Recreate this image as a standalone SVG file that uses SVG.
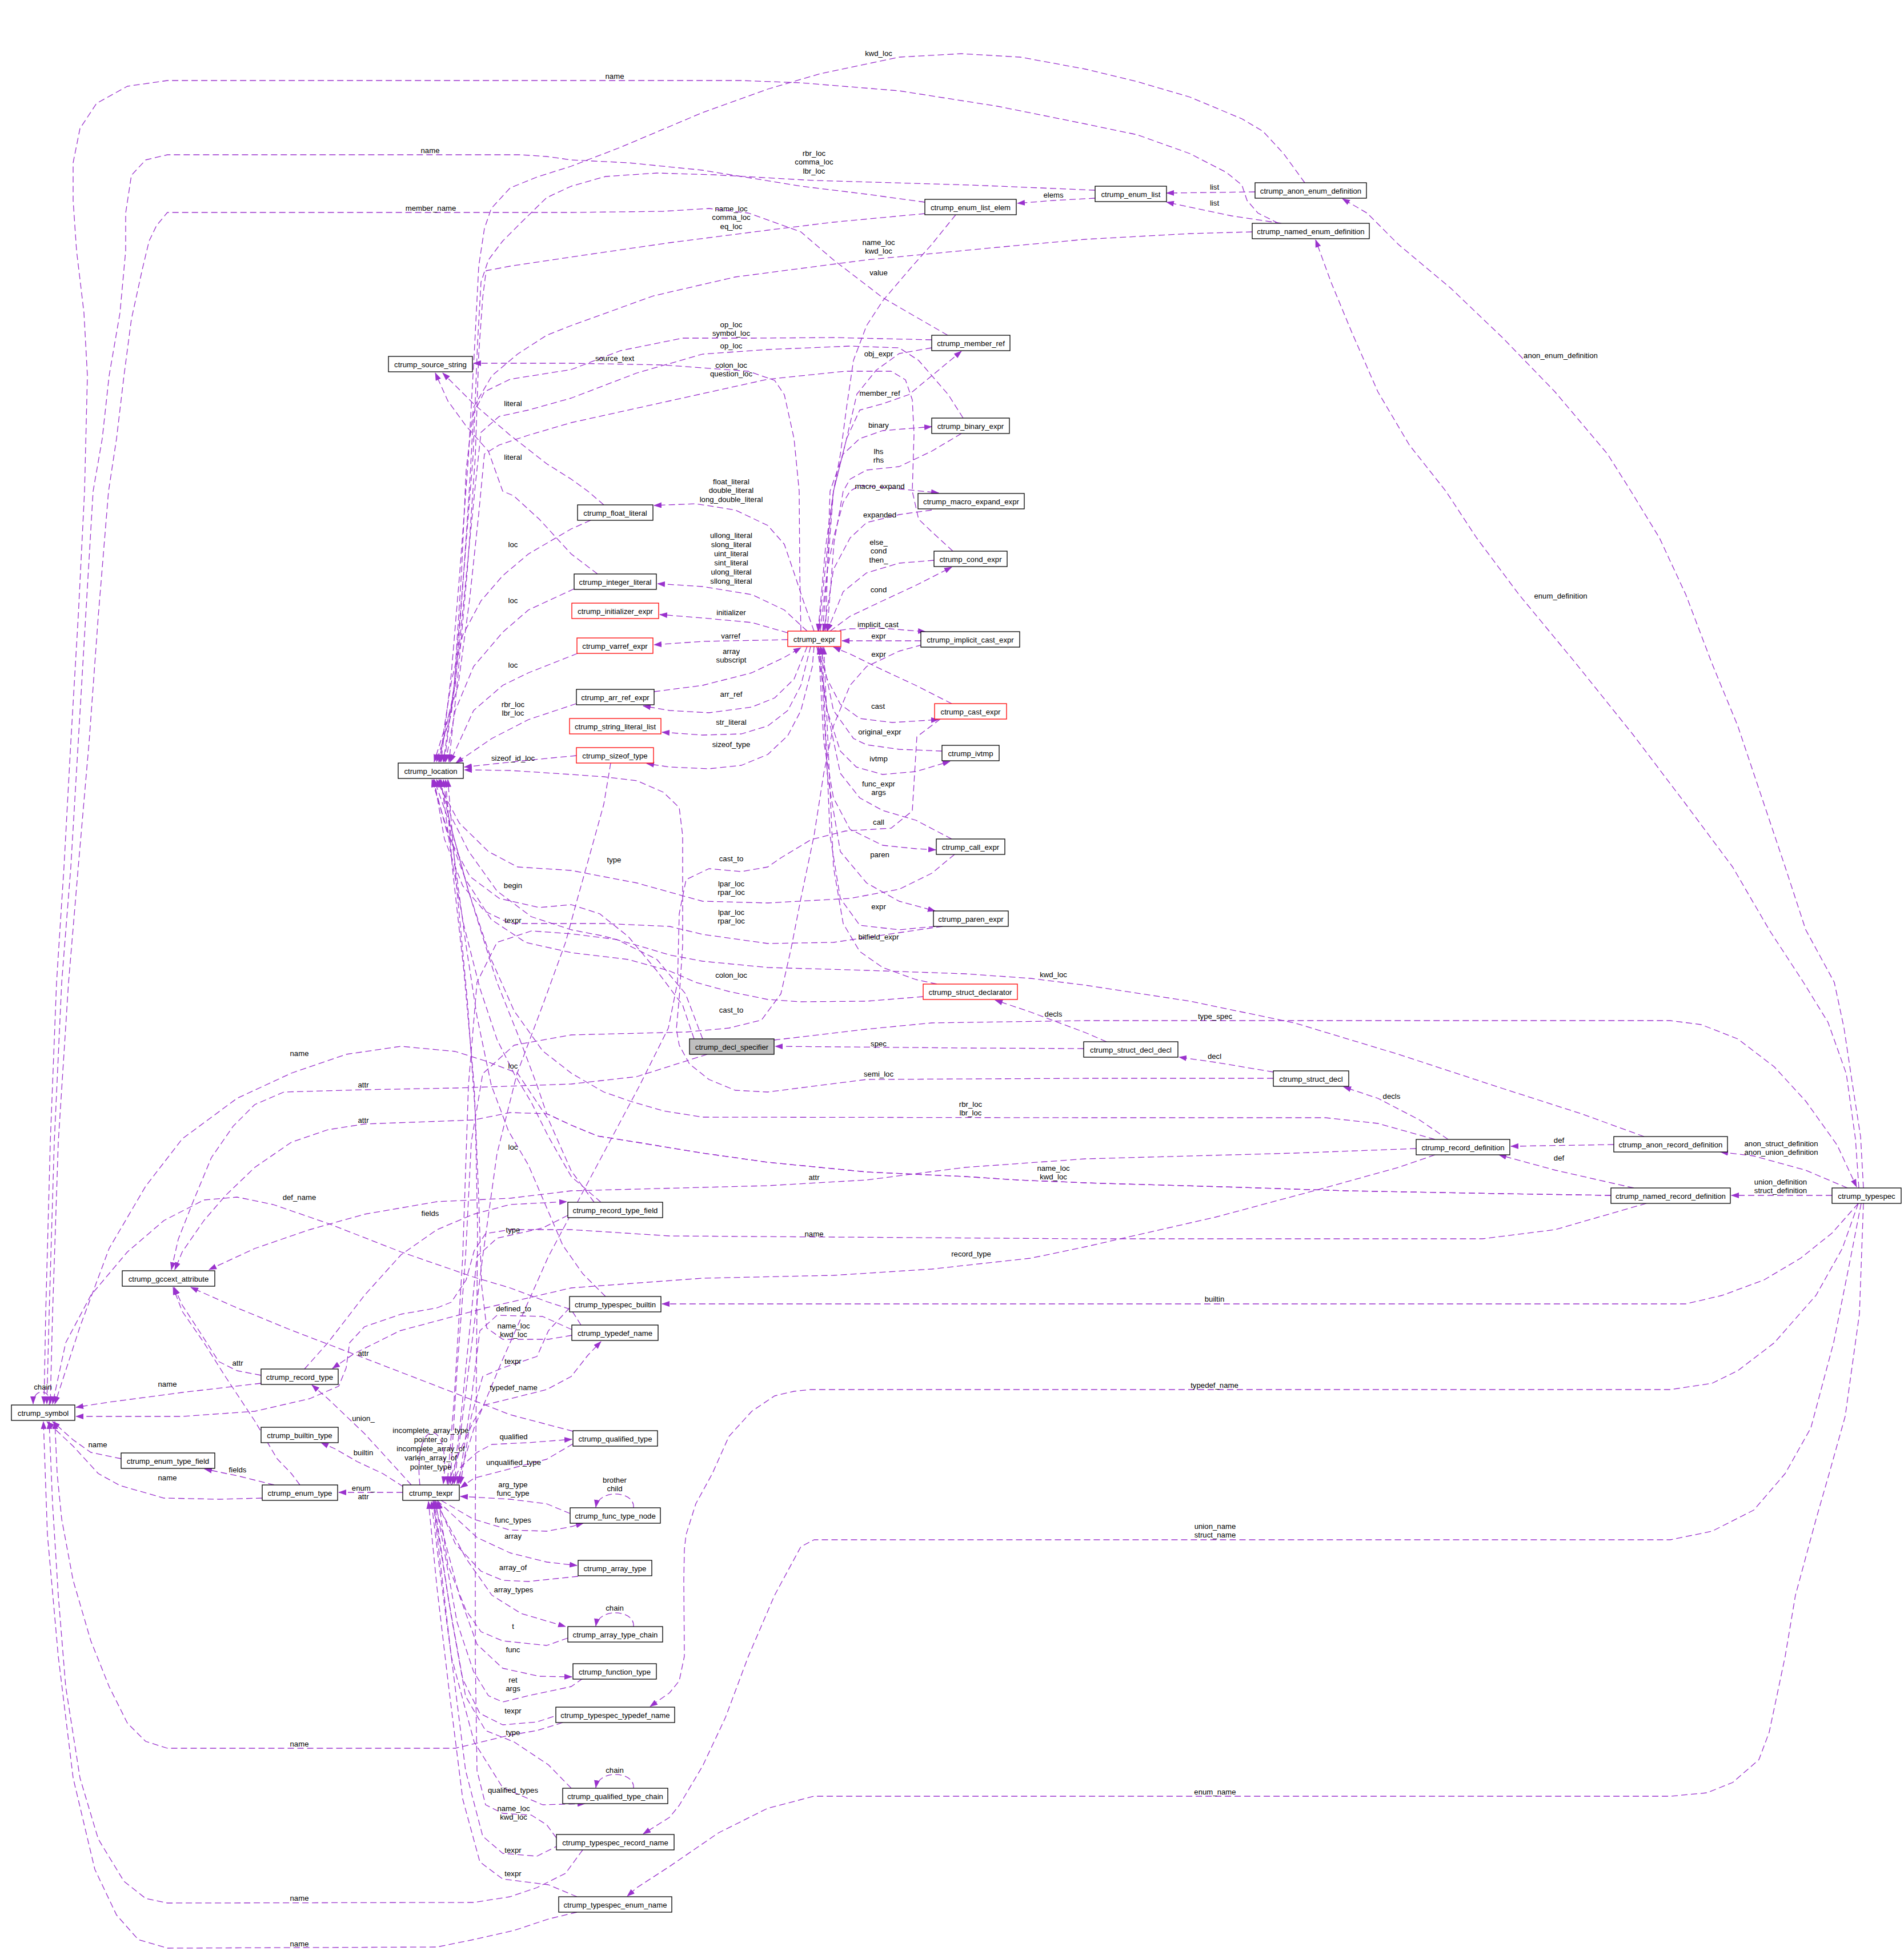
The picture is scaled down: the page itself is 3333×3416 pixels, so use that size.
<svg xmlns="http://www.w3.org/2000/svg" width="3333" height="3416" viewBox="0 0 3333 3416">
<style>
.e{fill:none;stroke:#9a32cd;stroke-width:1.3;stroke-dasharray:11,6;stroke-linejoin:round;marker-end:url(#a)}
.n rect{fill:#fff;stroke:#000;stroke-width:1.3}
.r rect{stroke:#f00}
.g rect{fill:#bfbfbf}
text{font-family:"Liberation Sans",Arial,sans-serif;font-size:13.2px;fill:#000;text-anchor:middle}
</style>
<defs>
<marker id="a" markerWidth="14" markerHeight="10" refX="13" refY="5" orient="auto" markerUnits="userSpaceOnUse"><path d="M0,0 L14,5 L0,10 z" fill="#9a32cd"/></marker>
</defs>
<rect width="3333" height="3416" fill="#fff"/>
<g id="edges">
<path class="e" d="M2238,391 L2202,373 L2183,351 L2174,324 L2147,302 L2083,269 L1991,236 L1900,217 L1746,186 L1574,159 L1402,145 L1298,141 L293,141 L223,151 L169,181 L140,225 L128,285 L128,351 L134,439 L147,548 L153,658 L148,860 L137,1079 L124,1299 L112,1518 L99,1720 L88,2000 L80,2300 L77,2458"/>
<text x="1076" y="137.5">name</text>
<path class="e" d="M2284,320 L2247,269 L2211,230 L2174,208 L2083,170 L1991,143 L1900,121 L1786,100 L1683,94 L1574,100 L1436,129 L1344,156 L1230,197 L1086,258 L1000,291 L940,310 L893,329 L860,365 L848,400 L838,466 L831,603 L820,800 L805,1000 L790,1180 L772,1334"/>
<text x="1538" y="97.5">kwd_loc</text>
<path class="e" d="M1917,333 L1700,324 L1425,316 L1250,306 L1150,303 L1060,309 L1000,326 L957,346 L918,384 L880,422 L855,455 L842,494 L836,600 L828,800 L812,1000 L795,1200 L778,1334"/>
<text x="1425" y="272.5">rbr_loc<tspan x="1425" dy="15.7">comma_loc</tspan><tspan x="1425" dy="15.7">lbr_loc</tspan></text>
<path class="e" d="M1619,354 L1517,340 L1402,326 L1230,298 L1100,285 L1000,280 L957,274 L912,271 L293,271 L255,280 L230,307 L220,373 L220,439 L210,548 L191,658 L179,768 L163,860 L150,1079 L137,1299 L124,1518 L108,1720 L95,2000 L86,2300 L82,2458"/>
<text x="753" y="267.5">name</text>
<path class="e" d="M1619,374 L1459,389 L1344,403 L1172,425 L1000,450 L893,466 L851,474 L845,521 L838,620 L832,800 L818,1000 L800,1200 L786,1334"/>
<text x="1280" y="369.5">name_loc<tspan x="1280" dy="15.7">comma_loc</tspan><tspan x="1280" dy="15.7">eq_loc</tspan></text>
<path class="e" d="M1659,587 L1600,553 L1545,521 L1459,455 L1402,406 L1310,373 L1241,365 L1161,370 L1000,372 L293,372 L274,395 L261,422 L249,472 L230,559 L217,658 L204,768 L190,860 L172,1079 L156,1299 L137,1518 L120,1720 L102,2000 L92,2300 L88,2458"/>
<text x="754" y="368.5">member_name</text>
<path class="e" d="M1673,376 L1631,428 L1597,466 L1545,527 L1517,570 L1494,631 L1482,713 L1471,796 L1459,860 L1445,960 L1432,1105"/>
<text x="1538" y="481.5">value</text>
<path class="e" d="M1917,347 L1844,351 L1781,356"/>
<text x="1844" y="345.5">elems</text>
<path class="e" d="M2197,336 L2042,338"/>
<text x="2126" y="331.5">list</text>
<path class="e" d="M2243,391 L2156,378 L2042,354"/>
<text x="2126" y="359.5">list</text>
<path class="e" d="M2192,406 L2083,409 L1900,419 L1746,433 L1517,455 L1287,485 L1144,518 L1000,570 L957,587 L906,620 L861,658 L829,713 L816,823 L808,1000 L795,1200 L776,1334"/>
<text x="1538" y="428.5">name_loc<tspan x="1538" dy="15.7">kwd_loc</tspan></text>
<path class="e" d="M3262,2080 L3257,1990 L3243,1900 L3228,1800 L3211,1720 L3161,1628 L3125,1518 L3088,1408 L3042,1271 L2997,1162 L2951,1041 L2905,942 L2855,860 L2814,795 L2722,686 L2631,592 L2540,505 L2448,428 L2393,373 L2350,348"/>
<text x="2732" y="626.5">anon_enum_definition</text>
<path class="e" d="M3254,2080 L3248,1994 L3232,1880 L3200,1790 L3157,1720 L3097,1628 L3033,1518 L2951,1408 L2860,1288 L2759,1162 L2659,1041 L2585,942 L2531,860 L2467,779 L2412,686 L2366,581 L2330,494 L2303,420"/>
<text x="2732" y="1047.5">enum_definition</text>
<path class="e" d="M1355,1821 L1517,1802 L1631,1791 L1900,1787 L2924,1787 L2978,1794 L3042,1819 L3106,1868 L3161,1928 L3216,2005 L3250,2078"/>
<text x="2127" y="1783.5">type_spec</text>
<path class="e" d="M1897,1836 L1700,1835 L1357,1832"/>
<text x="1538" y="1831.5">spec</text>
<path class="e" d="M2229,1877 L2128,1860 L2064,1851"/>
<text x="2126" y="1853.5">decl</text>
<path class="e" d="M2535,1995 L2485,1961 L2412,1923 L2352,1903"/>
<text x="2436" y="1923.5">decls</text>
<path class="e" d="M1937,1824 L1900,1808 L1804,1772 L1742,1751"/>
<text x="1844" y="1779.5">decls</text>
<path class="e" d="M2825,2004 L2645,2007"/>
<text x="2729" y="2000.5">def</text>
<path class="e" d="M2860,2080 L2723,2049 L2624,2022"/>
<text x="2729" y="2031.5">def</text>
<path class="e" d="M3234,2080 L3161,2049 L3070,2024 L3012,2017"/>
<text x="3118" y="2006.5">anon_struct_definition<tspan x="3118" dy="15.7">anon_union_definition</tspan></text>
<path class="e" d="M3207,2093 L3031,2093"/>
<text x="3117" y="2073.5">union_definition<tspan x="3117" dy="15.7">struct_definition</tspan></text>
<path class="e" d="M2229,1888 L1900,1888 L1517,1890 L1344,1912 L1287,1909 L1241,1890 L1207,1863 L1189,1830 L1184,1802 L1189,1747 L1195,1655 L1195,1463 L1189,1414 L1161,1387 L1115,1367 L1057,1360 L1000,1356 L893,1349 L813,1348"/>
<text x="1538" y="1884.5">semi_loc</text>
<path class="e" d="M1238,1846 L1115,1885 L1000,1898 L800,1905 L638,1908 L497,1912 L446,1934 L408,1972 L370,2027 L338,2104 L312,2170 L300,2223"/>
<text x="636" y="1903.5">attr</text>
<path class="e" d="M2479,2011 L2266,2019 L1900,2029 L1689,2044 L1517,2066 L1344,2076 L1000,2085 L893,2098 L765,2104 L638,2126 L542,2153 L446,2186 L366,2223"/>
<text x="1425" y="2065.5">attr</text>
<path class="e" d="M2820,2093 L2631,2090 L2357,2085 L2174,2079 L1900,2071 L1781,2066 L1689,2060 L1517,2052 L1344,2035 L1230,2019 L1115,2000 L1046,1989 L1000,1970 L957,1950 L893,1948 L829,1961 L638,1968 L574,1978 L510,2000 L446,2044 L395,2093 L357,2137 L319,2192 L306,2223"/>
<text x="636" y="1965.5">attr</text>
<path class="e" d="M2820,2093 L2631,2090 L2357,2085 L2174,2079 L1900,2071 L1781,2066 L1689,2060 L1517,2052 L1344,2035 L1230,2019 L1115,2000 L1046,1989 L1000,1970 L957,1950 L940,1900 L910,1820 L870,1720 L820,1560 L790,1450 L770,1365"/>
<text x="1844" y="2049.5">name_loc<tspan x="1844" dy="15.7">kwd_loc</tspan></text>
<path class="e" d="M2878,1990 L2768,1950 L2631,1906 L2448,1846 L2266,1791 L2083,1753 L1900,1725 L1804,1713 L1689,1705 L1517,1699 L1344,1694 L1230,1683 L1172,1672 L1115,1655 L1057,1639 L1000,1628 L930,1605 L870,1560 L820,1490 L790,1430 L768,1365"/>
<text x="1844" y="1710.5">kwd_loc</text>
<path class="e" d="M2512,1995 L2412,1967 L2320,1957 L1900,1957 L1230,1956 L1161,1945 L1103,1928 L1057,1912 L1029,1896 L1000,1879 L950,1840 L900,1770 L860,1680 L820,1560 L790,1450 L760,1365"/>
<text x="1699" y="1937.5">rbr_loc<tspan x="1699" dy="15.7">lbr_loc</tspan></text>
<path class="e" d="M1616,1745 L1517,1753 L1402,1754 L1344,1750 L1276,1736 L1218,1720 L1172,1700 L1100,1680 L1000,1668 L920,1650 L860,1610 L815,1540 L785,1460 L756,1365"/>
<text x="1280" y="1711.5">colon_loc</text>
<path class="e" d="M1671,1496 L1631,1529 L1574,1557 L1488,1573 L1344,1581 L1230,1578 L1172,1562 L1115,1546 L1057,1535 L1000,1524 L906,1518 L855,1491 L804,1441 L772,1381 L764,1365"/>
<text x="1280" y="1551.5">lpar_loc<tspan x="1280" dy="15.7">rpar_loc</tspan></text>
<path class="e" d="M1650,1622 L1574,1633 L1459,1650 L1344,1652 L1230,1636 L1172,1622 L1057,1617 L1000,1617 L893,1617 L848,1595 L810,1551 L778,1469 L760,1365"/>
<text x="1280" y="1601.5">lpar_loc<tspan x="1280" dy="15.7">rpar_loc</tspan></text>
<path class="e" d="M1215,1819 L1195,1760 L1150,1700 L1100,1640 L1050,1600 L1000,1584 L944,1589 L874,1573 L823,1535 L784,1463 L758,1365"/>
<text x="898" y="1554.5">begin</text>
<path class="e" d="M1034,911 L1000,926 L925,970 L880,1008 L842,1052 L810,1112 L791,1189 L778,1271 L770,1334"/>
<text x="898" y="957.5">loc</text>
<path class="e" d="M1005,1031 L925,1068 L880,1107 L829,1167 L797,1244 L780,1334"/>
<text x="898" y="1055.5">loc</text>
<path class="e" d="M1011,1144 L925,1178 L880,1200 L829,1244 L788,1334"/>
<text x="898" y="1168.5">loc</text>
<path class="e" d="M1009,1232 L925,1260 L861,1293 L798,1336"/>
<text x="898" y="1237.5">rbr_loc<tspan x="898" dy="15.7">lbr_loc</tspan></text>
<path class="e" d="M1009,1323 L925,1331 L813,1343"/>
<text x="898" y="1331.5">sizeof_id_loc</text>
<path class="e" d="M1631,595 L1459,591 L1321,592 L1195,592 L1086,614 L1000,647 L893,664 L848,686 L829,724 L822,850 L812,1000 L797,1200 L768,1334"/>
<text x="1280" y="572.5">op_loc<tspan x="1280" dy="15.7">symbol_loc</tspan></text>
<path class="e" d="M1686,732 L1660,691 L1608,631 L1574,609 L1488,606 L1344,612 L1230,620 L1115,653 L1000,697 L925,718 L874,729 L842,757 L832,850 L817,1000 L802,1150 L790,1250 L764,1334"/>
<text x="1280" y="609.5">op_loc</text>
<path class="e" d="M1668,965 L1631,931 L1608,909 L1597,860 L1600,760 L1597,700 L1585,665 L1560,650 L1480,650 L1344,664 L1172,702 L1000,740 L925,762 L874,779 L848,795 L838,900 L822,1050 L802,1200 L760,1334"/>
<text x="1280" y="643.5">colon_loc<tspan x="1280" dy="15.7">question_loc</tspan></text>
<path class="e" d="M1052,2105 L1000,2060 L960,1990 L930,1930 L900,1880 L870,1820 L840,1730 L812,1620 L790,1500 L772,1365"/>
<text x="898" y="1870.5">loc</text>
<path class="e" d="M1060,2270 L1020,2230 L985,2180 L955,2110 L925,2040 L890,1980 L860,1900 L835,1780 L815,1650 L795,1500 L776,1365"/>
<text x="898" y="2012.5">loc</text>
<path class="e" d="M1001,2338 L960,2345 L880,2345 L852,2325 L843,2250 L838,2100 L830,1900 L812,1700 L792,1520 L780,1365"/>
<text x="899" y="2325.5">name_loc<tspan x="899" dy="15.7">kwd_loc</tspan></text>
<path class="e" d="M974,3218 L957,3195 L930,3178 L880,3175 L850,3160 L835,3100 L832,2900 L832,2650 L834,2400 L836,2150 L832,1950 L818,1750 L800,1560 L784,1365"/>
<text x="899" y="3170.5">name_loc<tspan x="899" dy="15.7">kwd_loc</tspan></text>
<path class="e" d="M1402,1105 L1400,1000 L1399,860 L1390,768 L1373,691 L1356,666 L1310,650 L1161,639 L1000,636 L829,636"/>
<text x="1076" y="631.5">source_text</text>
<path class="e" d="M1057,884 L1029,860 L1000,839 L957,812 L893,762 L829,707 L775,653"/>
<text x="898" y="710.5">literal</text>
<path class="e" d="M1046,1005 L1000,970 L944,909 L899,868 L880,860 L855,790 L816,746 L784,702 L762,653"/>
<text x="898" y="804.5">literal</text>
<path class="e" d="M1425,1105 L1408,1057 L1390,1003 L1373,953 L1344,920 L1287,893 L1218,882 L1145,885"/>
<text x="1280" y="847.5">float_literal<tspan x="1280" dy="15.7">double_literal</tspan><tspan x="1280" dy="15.7">long_double_literal</tspan></text>
<path class="e" d="M1413,1105 L1373,1068 L1316,1041 L1230,1027 L1151,1022"/>
<text x="1280" y="941.5">ullong_literal<tspan x="1280" dy="16">slong_literal</tspan><tspan x="1280" dy="16">uint_literal</tspan><tspan x="1280" dy="16">sint_literal</tspan><tspan x="1280" dy="16">ulong_literal</tspan><tspan x="1280" dy="16">sllong_literal</tspan></text>
<path class="e" d="M1379,1108 L1316,1090 L1230,1082 L1155,1076"/>
<text x="1280" y="1076.5">initializer</text>
<path class="e" d="M1379,1120 L1230,1123 L1145,1129"/>
<text x="1279" y="1117.5">varref</text>
<path class="e" d="M1145,1211 L1230,1200 L1316,1178 L1373,1151 L1402,1134"/>
<text x="1280" y="1144.5">array<tspan x="1280" dy="15.7">subscript</tspan></text>
<path class="e" d="M1413,1132 L1390,1189 L1356,1222 L1316,1238 L1241,1248 L1172,1244 L1126,1236"/>
<text x="1280" y="1219.5">arr_ref</text>
<path class="e" d="M1419,1132 L1402,1200 L1379,1244 L1344,1271 L1298,1285 L1230,1287 L1159,1282"/>
<text x="1280" y="1268.5">str_literal</text>
<path class="e" d="M1425,1132 L1422,1167 L1402,1244 L1379,1288 L1344,1321 L1298,1340 L1241,1346 L1172,1343 L1132,1337"/>
<text x="1280" y="1307.5">sizeof_type</text>
<path class="e" d="M1436,1105 L1448,1000 L1459,942 L1476,880 L1488,860 L1505,850 L1574,856 L1643,863"/>
<text x="1540" y="855.5">macro_expand</text>
<path class="e" d="M1631,893 L1574,901 L1517,915 L1488,942 L1459,997 L1442,1105"/>
<text x="1540" y="905.5">expanded</text>
<path class="e" d="M1453,1105 L1488,1079 L1545,1052 L1603,1025 L1666,993"/>
<text x="1538" y="1036.5">cond</text>
<path class="e" d="M1635,981 L1574,986 L1517,1003 L1476,1036 L1448,1105"/>
<text x="1538" y="953.5">else_<tspan x="1538" dy="15.7">cond</tspan><tspan x="1538" dy="15.7">then_</tspan></text>
<path class="e" d="M1453,1106 L1488,1101 L1545,1100 L1620,1106"/>
<text x="1537" y="1097.5">implicit_cast</text>
<path class="e" d="M1612,1122 L1474,1122"/>
<text x="1538" y="1117.5">expr</text>
<path class="e" d="M1666,1232 L1603,1200 L1545,1173 L1488,1145 L1459,1133"/>
<text x="1538" y="1149.5">expr</text>
<path class="e" d="M1430,1132 L1448,1189 L1471,1233 L1505,1258 L1562,1265 L1643,1260"/>
<text x="1537" y="1240.5">cast</text>
<path class="e" d="M1649,1315 L1574,1312 L1517,1304 L1494,1293 L1459,1244 L1436,1133"/>
<text x="1540" y="1285.5">original_expr</text>
<path class="e" d="M1430,1132 L1448,1244 L1471,1315 L1499,1343 L1545,1356 L1603,1351 L1663,1333"/>
<text x="1538" y="1332.5">ivtmp</text>
<path class="e" d="M1666,1469 L1603,1436 L1545,1419 L1505,1397 L1471,1354 L1448,1244 L1433,1133"/>
<text x="1538" y="1376.5">func_expr<tspan x="1538" dy="15.7">args</tspan></text>
<path class="e" d="M1433,1132 L1442,1299 L1459,1397 L1488,1452 L1545,1480 L1603,1486 L1638,1488"/>
<text x="1538" y="1443.5">call</text>
<path class="e" d="M1436,1132 L1448,1354 L1471,1491 L1517,1546 L1574,1578 L1637,1595"/>
<text x="1540" y="1500.5">paren</text>
<path class="e" d="M1637,1622 L1574,1628 L1505,1620 L1471,1573 L1453,1463 L1439,1133"/>
<text x="1538" y="1591.5">expr</text>
<path class="e" d="M1640,1723 L1603,1715 L1545,1694 L1505,1666 L1476,1617 L1459,1518 L1442,1133"/>
<text x="1538" y="1644.5">bitfield_expr</text>
<path class="e" d="M1631,609 L1574,619 L1534,648 L1500,690 L1482,768 L1459,860 L1433,1105"/>
<text x="1538" y="623.5">obj_expr</text>
<path class="e" d="M1440,1105 L1459,860 L1482,768 L1505,718 L1545,707 L1591,691 L1631,658 L1683,615"/>
<text x="1540" y="692.5">member_ref</text>
<path class="e" d="M1445,1105 L1453,860 L1476,795 L1505,768 L1545,754 L1631,747"/>
<text x="1538" y="748.5">binary</text>
<path class="e" d="M1683,759 L1631,790 L1574,817 L1517,823 L1488,839 L1476,860 L1460,950 L1448,1105"/>
<text x="1538" y="794.5">lhs<tspan x="1538" dy="15.7">rhs</tspan></text>
<path class="e" d="M1040,2105 L1000,2050 L960,1960 L906,1879 L848,1857 L797,1841 L702,1832 L606,1846 L510,1879 L415,1923 L319,1994 L255,2077 L191,2186 L140,2323 L96,2458"/>
<text x="524" y="1848.5">name</text>
<path class="e" d="M1017,2320 L1000,2293 L957,2279 L893,2255 L829,2236 L702,2192 L574,2142 L478,2109 L415,2096 L357,2101 L287,2137 L223,2192 L159,2268 L115,2351 L92,2458"/>
<text x="524" y="2100.5">def_name</text>
<path class="e" d="M457,2422 L319,2438 L191,2455 L133,2464"/>
<text x="293" y="2427.5">name</text>
<path class="e" d="M2882,2107 L2722,2153 L2595,2169 L1900,2169 L1172,2164 L1000,2153 L893,2153 L850,2160 L830,2190 L816,2241 L790,2280 L765,2290 L702,2301 L638,2323 L612,2351 L606,2395 L593,2427 L542,2449 L446,2471 L319,2480 L133,2480"/>
<text x="1425" y="2164.5">name</text>
<path class="e" d="M212,2554 L159,2543 L128,2521 L92,2489"/>
<text x="171" y="2533.5">name</text>
<path class="e" d="M459,2623 L383,2625 L287,2623 L210,2601 L172,2580 L128,2532 L82,2489"/>
<text x="293" y="2591.5">name</text>
<path class="e" d="M985,3016 L940,3030 L893,3038 L797,3061 L293,3061 L255,3049 L223,3017 L191,2953 L159,2873 L128,2767 L108,2660 L100,2580 L96,2489"/>
<text x="524" y="3057.5">name</text>
<path class="e" d="M1020,3239 L990,3280 L940,3305 L893,3321 L829,3331 L293,3332 L255,3324 L217,3294 L172,3220 L140,3113 L115,2953 L102,2793 L92,2633 L86,2489"/>
<text x="524" y="3327.5">name</text>
<path class="e" d="M1010,3348 L960,3360 L900,3380 L829,3396 L765,3409 L293,3411 L242,3396 L204,3353 L166,3273 L128,3113 L102,2900 L83,2687 L76,2489"/>
<text x="524" y="3407.5">name</text>
<path class="e" d="M86,2460 C92,2432 58,2428 58,2458"/>
<text x="75" y="2432.5">chain</text>
<path class="e" d="M457,2408 L415,2400 L383,2384 L351,2334 L319,2285 L305,2254"/>
<text x="416" y="2390.5">attr</text>
<path class="e" d="M1003,2506 L893,2477 L765,2427 L638,2378 L510,2329 L415,2290 L334,2254"/>
<text x="636" y="2373.5">attr</text>
<path class="e" d="M525,2600 L510,2580 L485,2554 L446,2488 L395,2411 L357,2351 L319,2296 L303,2254"/>
<path class="e" d="M1069,1336 L1057,1408 L1034,1491 L1011,1573 L990,1650 L950,1760 L905,1880 L870,2020 L845,2200 L820,2400 L795,2598"/>
<text x="1075" y="1509.5">type</text>
<path class="e" d="M1646,1259 L1605,1290 L1597,1420 L1560,1450 L1480,1455 L1420,1470 L1367,1502 L1344,1518 L1298,1526 L1241,1521 L1201,1540 L1189,1600 L1186,1720 L1170,1800 L1120,1900 L1040,2050 L960,2200 L880,2380 L830,2500 L800,2598"/>
<text x="1280" y="1507.5">cast_to</text>
<path class="e" d="M1614,1129 L1574,1140 L1517,1167 L1488,1200 L1459,1271 L1442,1354 L1425,1463 L1402,1573 L1385,1660 L1367,1740 L1333,1786 L1276,1800 L1201,1807 L1000,1812 L900,1830 L845,1880 L825,2000 L815,2200 L800,2400 L788,2598"/>
<text x="1280" y="1772.5">cast_to</text>
<path class="e" d="M1230,1819 L1200,1740 L1150,1680 L1080,1645 L1000,1635 L930,1630 L870,1650 L835,1720 L820,1900 L810,2200 L795,2450 L783,2598"/>
<text x="898" y="1615.5">texpr</text>
<path class="e" d="M994,2128 L950,2150 L870,2168 L835,2200 L820,2350 L805,2500 L792,2598"/>
<text x="898" y="2157.5">type</text>
<path class="e" d="M1001,2328 L950,2305 L870,2303 L840,2330 L825,2450 L803,2598"/>
<text x="899" y="2295.5">defined_to</text>
<path class="e" d="M997,2290 L960,2330 L940,2375 L880,2395 L845,2410 L825,2480 L806,2598"/>
<text x="898" y="2387.5">texpr</text>
<path class="e" d="M1003,2528 L957,2555 L880,2575 L830,2588 L806,2605"/>
<text x="899" y="2564.5">unqualified_type</text>
<path class="e" d="M998,2650 L957,2633 L893,2625 L806,2620"/>
<text x="898" y="2603.5">arg_type<tspan x="898" dy="15.7">func_type</tspan></text>
<path class="e" d="M1012,2760 L925,2769 L880,2767 L842,2751 L797,2703 L765,2629"/>
<text x="898" y="2748.5">array_of</text>
<path class="e" d="M994,2868 L957,2881 L880,2873 L842,2857 L816,2820 L784,2740 L768,2629"/>
<text x="898" y="2851.5">t</text>
<path class="e" d="M1020,2939 L1000,2953 L925,2969 L880,2980 L855,2969 L829,2927 L800,2840 L775,2700 L762,2629"/>
<text x="898" y="2945.5">ret<tspan x="898" dy="15.7">args</tspan></text>
<path class="e" d="M985,3000 L940,3015 L880,3020 L840,3000 L810,2940 L785,2800 L760,2629"/>
<text x="898" y="2999.5">texpr</text>
<path class="e" d="M1000,3131 L960,3090 L900,3050 L850,3030 L815,2970 L790,2830 L758,2629"/>
<text x="898" y="3037.5">type</text>
<path class="e" d="M980,3230 L940,3250 L880,3245 L845,3215 L815,3100 L790,2900 L770,2750 L755,2629"/>
<text x="898" y="3243.5">texpr</text>
<path class="e" d="M1010,3321 L960,3300 L880,3290 L840,3260 L810,3150 L785,2950 L765,2780 L750,2629"/>
<text x="898" y="3284.5">texpr</text>
<path class="e" d="M735,2600 C722,2478 792,2478 776,2598"/>
<text x="754" y="2508.5">incomplete_array_type<tspan x="754" dy="16">pointer_to</tspan><tspan x="754" dy="16">incomplete_array_of</tspan><tspan x="754" dy="16">varlen_array_of</tspan><tspan x="754" dy="16">pointer_type</tspan></text>
<path class="e" d="M790,2600 L805,2570 L835,2543 L861,2529 L925,2526 L1001,2520"/>
<text x="899" y="2519.5">qualified</text>
<path class="e" d="M772,2627 L829,2660 L893,2679 L957,2681 L1000,2673 L1021,2667"/>
<text x="898" y="2665.5">func_types</text>
<path class="e" d="M765,2627 L835,2692 L893,2719 L957,2735 L1010,2741"/>
<text x="898" y="2693.5">array</text>
<path class="e" d="M762,2627 L816,2729 L861,2793 L912,2825 L990,2848"/>
<text x="899" y="2787.5">array_types</text>
<path class="e" d="M760,2627 L804,2793 L835,2879 L880,2921 L944,2935 L1001,2936"/>
<text x="898" y="2892.5">func</text>
<path class="e" d="M758,2627 L790,2900 L830,3050 L880,3130 L950,3160 L1024,3158"/>
<text x="898" y="3138.5">qualified_types</text>
<path class="e" d="M706,2603 L670,2580 L625,2559 L587,2537 L562,2526"/>
<text x="636" y="2547.5">builtin</text>
<path class="e" d="M720,2600 L702,2580 L638,2510 L574,2449 L546,2425"/>
<text x="636" y="2487.5">union_</text>
<path class="e" d="M705,2613 L593,2613"/>
<text x="636" y="2609.5">enum_<tspan x="636" dy="15.7">attr</tspan></text>
<path class="e" d="M784,2600 L804,2543 L829,2488 L848,2460 L893,2449 L957,2433 L1000,2410 L1029,2373 L1052,2349"/>
<text x="899" y="2433.5">typedef_name</text>
<path class="e" d="M533,2397 L574,2351 L638,2268 L702,2197 L765,2153 L829,2126 L893,2109 L992,2104"/>
<text x="753" y="2128.5">fields</text>
<path class="e" d="M480,2600 L420,2585 L358,2572"/>
<text x="416" y="2577.5">fields</text>
<path class="e" d="M2512,2022 L2448,2044 L2311,2082 L2128,2131 L1900,2183 L1804,2203 L1631,2222 L1459,2233 L1230,2238 L1000,2255 L850,2290 L700,2330 L620,2370 L582,2396"/>
<text x="1700" y="2199.5">record_type</text>
<path class="e" d="M3253,2107 L3207,2159 L3152,2203 L3088,2241 L3015,2268 L2951,2283 L1900,2283 L1159,2283"/>
<text x="2126" y="2278.5">builtin</text>
<path class="e" d="M3253,2107 L3225,2186 L3179,2268 L3106,2351 L3042,2400 L2997,2422 L2924,2433 L1900,2433 L1419,2433 L1390,2436 L1356,2444 L1316,2471 L1276,2515 L1247,2580 L1218,2633 L1201,2687 L1198,2713 L1197,2767 L1198,2900 L1189,2943 L1172,2964 L1138,2988"/>
<text x="2126" y="2429.5">typedef_name</text>
<path class="e" d="M3258,2107 L3240,2200 L3210,2350 L3170,2500 L3125,2580 L3070,2644 L2997,2681 L2924,2696 L1900,2696 L1425,2696 L1402,2708 L1356,2793 L1310,2900 L1270,3007 L1230,3092 L1189,3161 L1172,3182 L1126,3211"/>
<text x="2127" y="2676.5">union_name<tspan x="2127" dy="15.7">struct_name</tspan></text>
<path class="e" d="M3262,2107 L3255,2300 L3230,2480 L3202,2580 L3179,2660 L3143,2793 L3125,2900 L3097,3033 L3079,3081 L3033,3121 L2988,3139 L2924,3145 L1900,3145 L1425,3145 L1344,3166 L1258,3209 L1172,3268 L1115,3305 L1098,3320"/>
<text x="2127" y="3141.5">enum_name</text>
<path class="e" d="M1109,2640 C1112,2610 1048,2606 1043,2639"/>
<text x="1076" y="2595.5">brother<tspan x="1076" dy="15.7">child</tspan></text>
<path class="e" d="M1109,2848 C1112,2818 1048,2814 1043,2847"/>
<text x="1076" y="2819.5">chain</text>
<path class="e" d="M1109,3131 C1112,3101 1048,3097 1043,3130"/>
<text x="1076" y="3103.5">chain</text>
</g>
<g id="n_anon_enum_definition" class="n"><rect x="2197" y="320" width="195" height="27"/><text x="2294.5" y="338.5">ctrump_anon_enum_definition</text></g>
<g id="n_enum_list" class="n"><rect x="1917" y="326" width="125" height="27"/><text x="1979.5" y="344.5">ctrump_enum_list</text></g>
<g id="n_enum_list_elem" class="n"><rect x="1619" y="349" width="160" height="27"/><text x="1699" y="367.5">ctrump_enum_list_elem</text></g>
<g id="n_named_enum_definition" class="n"><rect x="2192" y="391" width="205" height="27"/><text x="2294.5" y="409.5">ctrump_named_enum_definition</text></g>
<g id="n_member_ref" class="n"><rect x="1631" y="587" width="137" height="27"/><text x="1699.5" y="605.5">ctrump_member_ref</text></g>
<g id="n_source_string" class="n"><rect x="680" y="624" width="147" height="27"/><text x="753.5" y="642.5">ctrump_source_string</text></g>
<g id="n_binary_expr" class="n"><rect x="1631" y="732" width="136" height="27"/><text x="1699" y="750.5">ctrump_binary_expr</text></g>
<g id="n_macro_expand_expr" class="n"><rect x="1607" y="864" width="186" height="27"/><text x="1700" y="882.5">ctrump_macro_expand_expr</text></g>
<g id="n_float_literal" class="n"><rect x="1011" y="884" width="132" height="27"/><text x="1077" y="902.5">ctrump_float_literal</text></g>
<g id="n_cond_expr" class="n"><rect x="1635" y="965" width="128" height="27"/><text x="1699" y="983.5">ctrump_cond_expr</text></g>
<g id="n_integer_literal" class="n"><rect x="1005" y="1005" width="144" height="27"/><text x="1077" y="1023.5">ctrump_integer_literal</text></g>
<g id="n_initializer_expr" class="n r"><rect x="1001" y="1056" width="152" height="27"/><text x="1077" y="1074.5">ctrump_initializer_expr</text></g>
<g id="n_expr" class="n r"><rect x="1379" y="1105" width="93" height="27"/><text x="1425.5" y="1123.5">ctrump_expr</text></g>
<g id="n_implicit_cast_expr" class="n"><rect x="1612" y="1106" width="173" height="27"/><text x="1698.5" y="1124.5">ctrump_implicit_cast_expr</text></g>
<g id="n_varref_expr" class="n r"><rect x="1010" y="1117" width="133" height="27"/><text x="1076.5" y="1135.5">ctrump_varref_expr</text></g>
<g id="n_arr_ref_expr" class="n"><rect x="1009" y="1207" width="136" height="27"/><text x="1077" y="1225.5">ctrump_arr_ref_expr</text></g>
<g id="n_cast_expr" class="n r"><rect x="1636" y="1232" width="126" height="27"/><text x="1699" y="1250.5">ctrump_cast_expr</text></g>
<g id="n_string_literal_list" class="n r"><rect x="997" y="1258" width="160" height="27"/><text x="1077" y="1276.5">ctrump_string_literal_list</text></g>
<g id="n_ivtmp" class="n"><rect x="1649" y="1305" width="100" height="27"/><text x="1699" y="1323.5">ctrump_ivtmp</text></g>
<g id="n_sizeof_type" class="n r"><rect x="1009" y="1309" width="135" height="27"/><text x="1076.5" y="1327.5">ctrump_sizeof_type</text></g>
<g id="n_location" class="n"><rect x="697" y="1336" width="114" height="27"/><text x="754" y="1354.5">ctrump_location</text></g>
<g id="n_call_expr" class="n"><rect x="1639" y="1469" width="120" height="27"/><text x="1699" y="1487.5">ctrump_call_expr</text></g>
<g id="n_paren_expr" class="n"><rect x="1634" y="1595" width="131" height="27"/><text x="1699.5" y="1613.5">ctrump_paren_expr</text></g>
<g id="n_struct_declarator" class="n r"><rect x="1616" y="1723" width="165" height="27"/><text x="1698.5" y="1741.5">ctrump_struct_declarator</text></g>
<g id="n_decl_specifier" class="n g"><rect x="1207" y="1819" width="148" height="27"/><text x="1281" y="1837.5">ctrump_decl_specifier</text></g>
<g id="n_struct_decl_decl" class="n"><rect x="1897" y="1824" width="165" height="27"/><text x="1979.5" y="1842.5">ctrump_struct_decl_decl</text></g>
<g id="n_struct_decl" class="n"><rect x="2229" y="1875" width="132" height="27"/><text x="2295" y="1893.5">ctrump_struct_decl</text></g>
<g id="n_record_definition" class="n"><rect x="2479" y="1995" width="164" height="27"/><text x="2561" y="2013.5">ctrump_record_definition</text></g>
<g id="n_anon_record_definition" class="n"><rect x="2825" y="1990" width="199" height="27"/><text x="2924.5" y="2008.5">ctrump_anon_record_definition</text></g>
<g id="n_named_record_definition" class="n"><rect x="2820" y="2080" width="209" height="27"/><text x="2924.5" y="2098.5">ctrump_named_record_definition</text></g>
<g id="n_typespec" class="n"><rect x="3207" y="2080" width="121" height="27"/><text x="3267.5" y="2098.5">ctrump_typespec</text></g>
<g id="n_record_type_field" class="n"><rect x="994" y="2105" width="166" height="27"/><text x="1077" y="2123.5">ctrump_record_type_field</text></g>
<g id="n_gccext_attribute" class="n"><rect x="214" y="2225" width="162" height="27"/><text x="295" y="2243.5">ctrump_gccext_attribute</text></g>
<g id="n_typespec_builtin" class="n"><rect x="997" y="2270" width="160" height="27"/><text x="1077" y="2288.5">ctrump_typespec_builtin</text></g>
<g id="n_typedef_name" class="n"><rect x="1001" y="2320" width="151" height="27"/><text x="1076.5" y="2338.5">ctrump_typedef_name</text></g>
<g id="n_record_type" class="n"><rect x="457" y="2397" width="135" height="27"/><text x="524.5" y="2415.5">ctrump_record_type</text></g>
<g id="n_symbol" class="n"><rect x="20" y="2460" width="111" height="27"/><text x="75.5" y="2478.5">ctrump_symbol</text></g>
<g id="n_builtin_type" class="n"><rect x="457" y="2499" width="135" height="27"/><text x="524.5" y="2517.5">ctrump_builtin_type</text></g>
<g id="n_qualified_type" class="n"><rect x="1003" y="2505" width="148" height="27"/><text x="1077" y="2523.5">ctrump_qualified_type</text></g>
<g id="n_enum_type_field" class="n"><rect x="212" y="2544" width="164" height="27"/><text x="294" y="2562.5">ctrump_enum_type_field</text></g>
<g id="n_enum_type" class="n"><rect x="459" y="2600" width="132" height="27"/><text x="525" y="2618.5">ctrump_enum_type</text></g>
<g id="n_texpr" class="n"><rect x="705" y="2600" width="99" height="27"/><text x="754.5" y="2618.5">ctrump_texpr</text></g>
<g id="n_func_type_node" class="n"><rect x="998" y="2640" width="158" height="27"/><text x="1077" y="2658.5">ctrump_func_type_node</text></g>
<g id="n_array_type" class="n"><rect x="1012" y="2732" width="129" height="27"/><text x="1076.5" y="2750.5">ctrump_array_type</text></g>
<g id="n_array_type_chain" class="n"><rect x="994" y="2848" width="166" height="27"/><text x="1077" y="2866.5">ctrump_array_type_chain</text></g>
<g id="n_function_type" class="n"><rect x="1003" y="2913" width="146" height="27"/><text x="1076" y="2931.5">ctrump_function_type</text></g>
<g id="n_typespec_typedef_name" class="n"><rect x="973" y="2989" width="208" height="27"/><text x="1077" y="3007.5">ctrump_typespec_typedef_name</text></g>
<g id="n_qualified_type_chain" class="n"><rect x="985" y="3131" width="184" height="27"/><text x="1077" y="3149.5">ctrump_qualified_type_chain</text></g>
<g id="n_typespec_record_name" class="n"><rect x="974" y="3212" width="206" height="27"/><text x="1077" y="3230.5">ctrump_typespec_record_name</text></g>
<g id="n_typespec_enum_name" class="n"><rect x="978" y="3321" width="198" height="27"/><text x="1077" y="3339.5">ctrump_typespec_enum_name</text></g>
</svg>
